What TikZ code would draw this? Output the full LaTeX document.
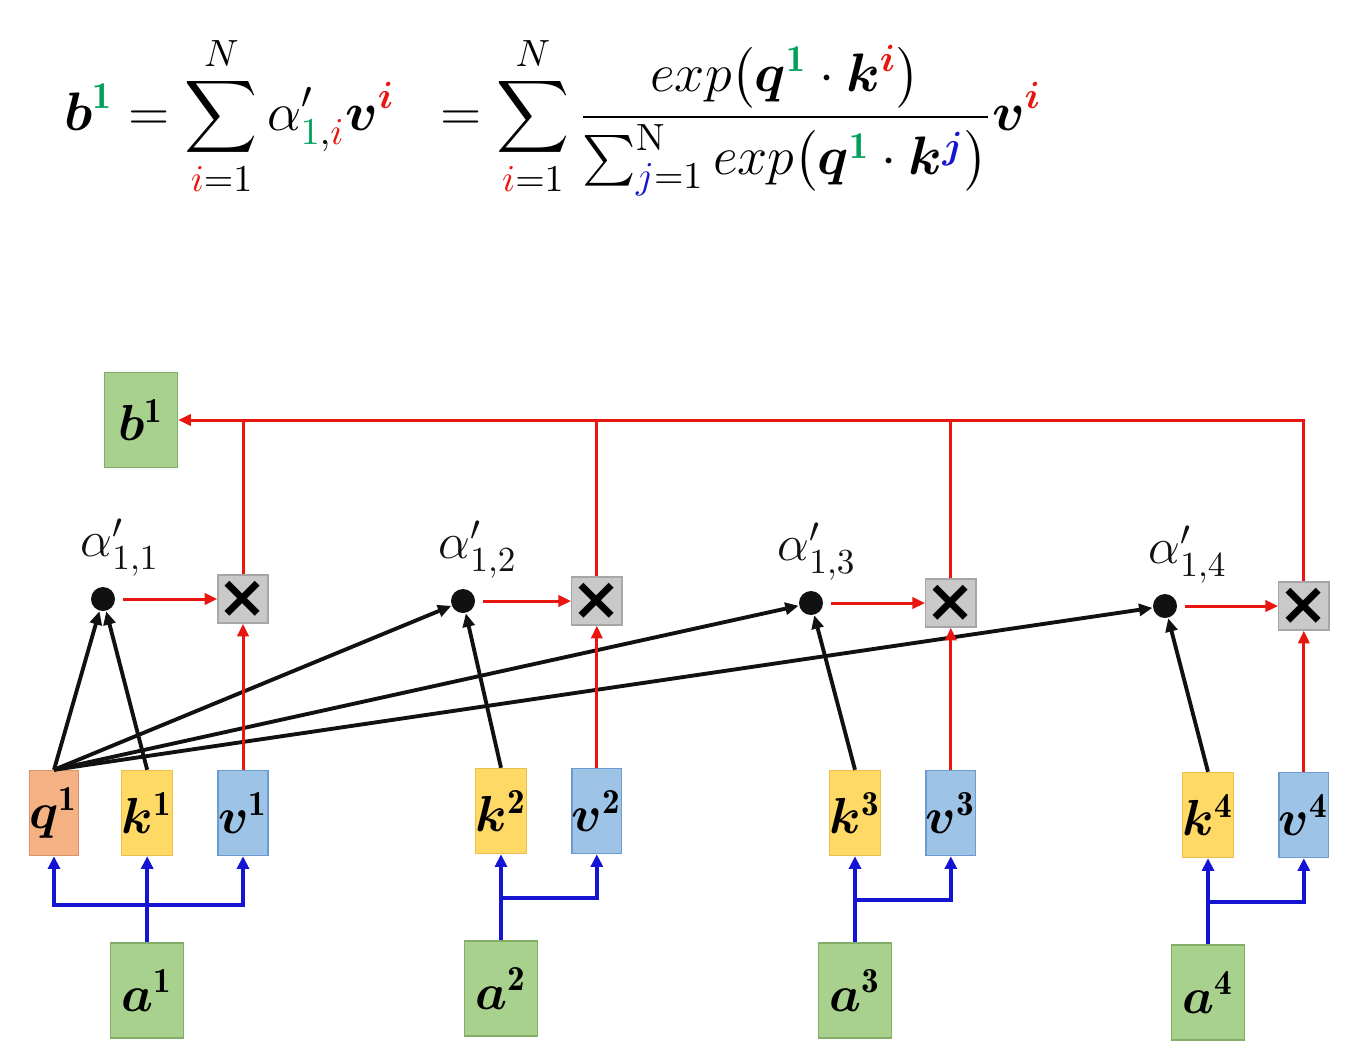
\RequirePackage{fix-cm}
\documentclass[tikz,border=0pt]{standalone}
\usepackage{amsmath,bm}
\usepackage{fontspec}
\newfontfamily\crossfont{DejaVu Sans}
\usetikzlibrary{arrows.meta, positioning, calc}
\usepackage{xcolor}
\definecolor{ink}     {HTML}{111111}
\definecolor{red}     {HTML}{E8160E}
\definecolor{blue}    {HTML}{1414D2}
\definecolor{green}   {HTML}{00A05A}
\definecolor{agreen}  {HTML}{A9D18E}
\definecolor{agreenln}{HTML}{82AE68}
\definecolor{qfill}   {HTML}{F4B183}
\definecolor{qline}   {HTML}{D9926A}
\definecolor{kfill}   {HTML}{FFD966}
\definecolor{kline}   {HTML}{EDBE4A}
\definecolor{vfill}   {HTML}{9DC3E6}
\definecolor{vline}   {HTML}{6C9BCF}
\definecolor{xfill}   {HTML}{C9C9C9}
\definecolor{xline}   {HTML}{A6A6A6}
\tikzset{
  box/.style    = {draw, line width=0.4pt, inner sep=0pt},
  inbox/.style  = {box, fill=agreen, draw=agreenln,
                   minimum width=0.73cm, minimum height=0.95cm,
                   font=\fontsize{14.4}{16}\selectfont},
  qbox/.style   = {box, fill=qfill, draw=qline,
                   minimum width=0.46cm, minimum height=0.85cm,
                   font=\fontsize{14.4}{16}\selectfont},
  kbox/.style   = {qbox, fill=kfill, draw=kline},
  vbox/.style   = {qbox, fill=vfill, draw=vline},
  mulbox/.style = {box, fill=xfill, draw=xline, minimum size=0.48cm,
                   font=\crossfont\bfseries\fontsize{17}{17}\selectfont},
  dot/.style    = {circle, fill=ink, minimum size=0.24cm, inner sep=0pt},
  alab/.style   = {font=\fontsize{14.4}{16}\selectfont, text=ink, inner sep=1pt},
  rline/.style  = {draw=red, line width=0.85pt},
  rarr/.style   = {rline, -{Triangle[length=3.6pt,width=3.2pt]}},
  karr/.style   = {draw=ink, line width=1.1pt, -{Triangle[length=3.8pt,width=3.4pt]}},
  barr/.style   = {draw=blue, line width=1.2pt, -{Triangle[length=3.6pt,width=3.4pt]}},
}

\begin{document}
\begin{tikzpicture}[x=0.01cm, y=-0.01cm, node distance=0.44cm]
  \useasboundingbox (0,0) rectangle (1349,1050);

  % formula
  \node[anchor=west, inner sep=0pt, font=\fontsize{15.4}{18}\selectfont] (eq) at (64,116) {$\displaystyle
    \boldsymbol{b}^{\color{green}\mathbf{1}}
    = \sum_{{\color{red}i}=1}^{N} \alpha'_{{\color{green}1},{\color{red}i}}
      \boldsymbol{v}^{\color{red}\boldsymbol{i}}
    \;\; = \sum_{{\color{red}i}=1}^{N}
      \frac{exp\bigl(\boldsymbol{q}^{\color{green}\mathbf{1}}\cdot\boldsymbol{k}^{\color{red}\boldsymbol{i}}\bigr)}
           {\sum_{{\color{blue}j}=1}^{\mathrm{N}} exp\bigl(\boldsymbol{q}^{\color{green}\mathbf{1}}\cdot\boldsymbol{k}^{\color{blue}\boldsymbol{j}}\bigr)}
      \boldsymbol{v}^{\color{red}\boldsymbol{i}}$};

  % output
  \node[inbox] (b1) at (141,420) {$\boldsymbol{b}^{\mathbf{1}}$};

  % attention scores
  \node[dot] (d1) at (103,599) {};
  \node[dot] (d2) at (463,601) {};
  \node[dot] (d3) at (811,603) {};
  \node[dot] (d4) at (1165,606) {};
  \node[alab, above=0.06cm of d1, xshift=0.17cm] (l1) {$\alpha'_{1,1}$};
  \node[alab, above=0.06cm of d2, xshift=0.15cm] (l2) {$\alpha'_{1,2}$};
  \node[alab, above=0.06cm of d3, xshift=0.06cm] (l3) {$\alpha'_{1,3}$};
  \node[alab, above=0.06cm of d4, xshift=0.23cm] (l4) {$\alpha'_{1,4}$};

  % query, keys, values
  \node[qbox] (q1) at (54,813) {$\boldsymbol{q}^{\mathbf{1}}$};
  \node[kbox, right=0.42cm of q1] (k1) {$\boldsymbol{k}^{\mathbf{1}}$};
  \node[vbox, right=of k1] (v1) {$\boldsymbol{v}^{\mathbf{1}}$};
  \node[kbox] (k2) at (501,811) {$\boldsymbol{k}^{\mathbf{2}}$};
  \node[vbox, right=of k2] (v2) {$\boldsymbol{v}^{\mathbf{2}}$};
  \node[kbox] (k3) at (855,813) {$\boldsymbol{k}^{\mathbf{3}}$};
  \node[vbox, right=of k3] (v3) {$\boldsymbol{v}^{\mathbf{3}}$};
  \node[kbox] (k4) at (1208,815) {$\boldsymbol{k}^{\mathbf{4}}$};
  \node[vbox, right=of k4] (v4) {$\boldsymbol{v}^{\mathbf{4}}$};

  % weighting
  \node[mulbox] (x1) at (v1 |- d1) {×};
  \node[mulbox] (x2) at (v2 |- d2) {×};
  \node[mulbox] (x3) at (v3 |- d3) {×};
  \node[mulbox] (x4) at (v4 |- d4) {×};

  % inputs
  \node[inbox, below=0.86cm of k1] (a1) {$\boldsymbol{a}^{\mathbf{1}}$};
  \node[inbox, below=0.86cm of k2] (a2) {$\boldsymbol{a}^{\mathbf{2}}$};
  \node[inbox, below=0.86cm of k3] (a3) {$\boldsymbol{a}^{\mathbf{3}}$};
  \node[inbox, below=0.86cm of k4] (a4) {$\boldsymbol{a}^{\mathbf{4}}$};
  \coordinate (j1) at ([yshift=0.37cm]a1.north);
  \coordinate (j2) at ([yshift=0.42cm]a2.north);
  \coordinate (j3) at ([yshift=0.42cm]a3.north);
  \coordinate (j4) at ([yshift=0.42cm]a4.north);

  % a -> q, k, v
  \draw[barr] (a1.north) -- (k1.south);
  \draw[barr] (j1) -| (q1.south);
  \draw[barr] (j1) -| (v1.south);
  \draw[barr] (a2.north) -- (k2.south);
  \draw[barr] (j2) -| (v2.south);
  \draw[barr] (a3.north) -- (k3.south);
  \draw[barr] (j3) -| (v3.south);
  \draw[barr] (a4.north) -- (k4.south);
  \draw[barr] (j4) -| (v4.south);

  % q . k
  \draw[karr] (q1.north) -- (d1);
  \draw[karr] (k1.north) -- (d1);
  \draw[karr] (q1.north) -- (d2);
  \draw[karr] (q1.north) -- (d3);
  \draw[karr] (q1.north) -- (d4);
  \draw[karr] (k2.north) -- (d2);
  \draw[karr] (k3.north) -- (d3);
  \draw[karr] (k4.north) -- (d4);

  % alpha' x v
  \draw[rarr, shorten <=2pt] (d1) -- (x1);
  \draw[rarr, shorten <=2pt] (d2) -- (x2);
  \draw[rarr, shorten <=2pt] (d3) -- (x3);
  \draw[rarr, shorten <=2pt] (d4) -- (x4);
  \draw[rarr] (v1) -- (x1);
  \draw[rarr] (v2) -- (x2);
  \draw[rarr] (v3) -- (x3);
  \draw[rarr] (v4) -- (x4);

  % sum into b1
  \draw[rarr] (x4.north) |- (b1.east);
  \draw[rline] (x1.north) -- (x1.north |- b1.east);
  \draw[rline] (x2.north) -- (x2.north |- b1.east);
  \draw[rline] (x3.north) -- (x3.north |- b1.east);

\end{tikzpicture}
\end{document}
